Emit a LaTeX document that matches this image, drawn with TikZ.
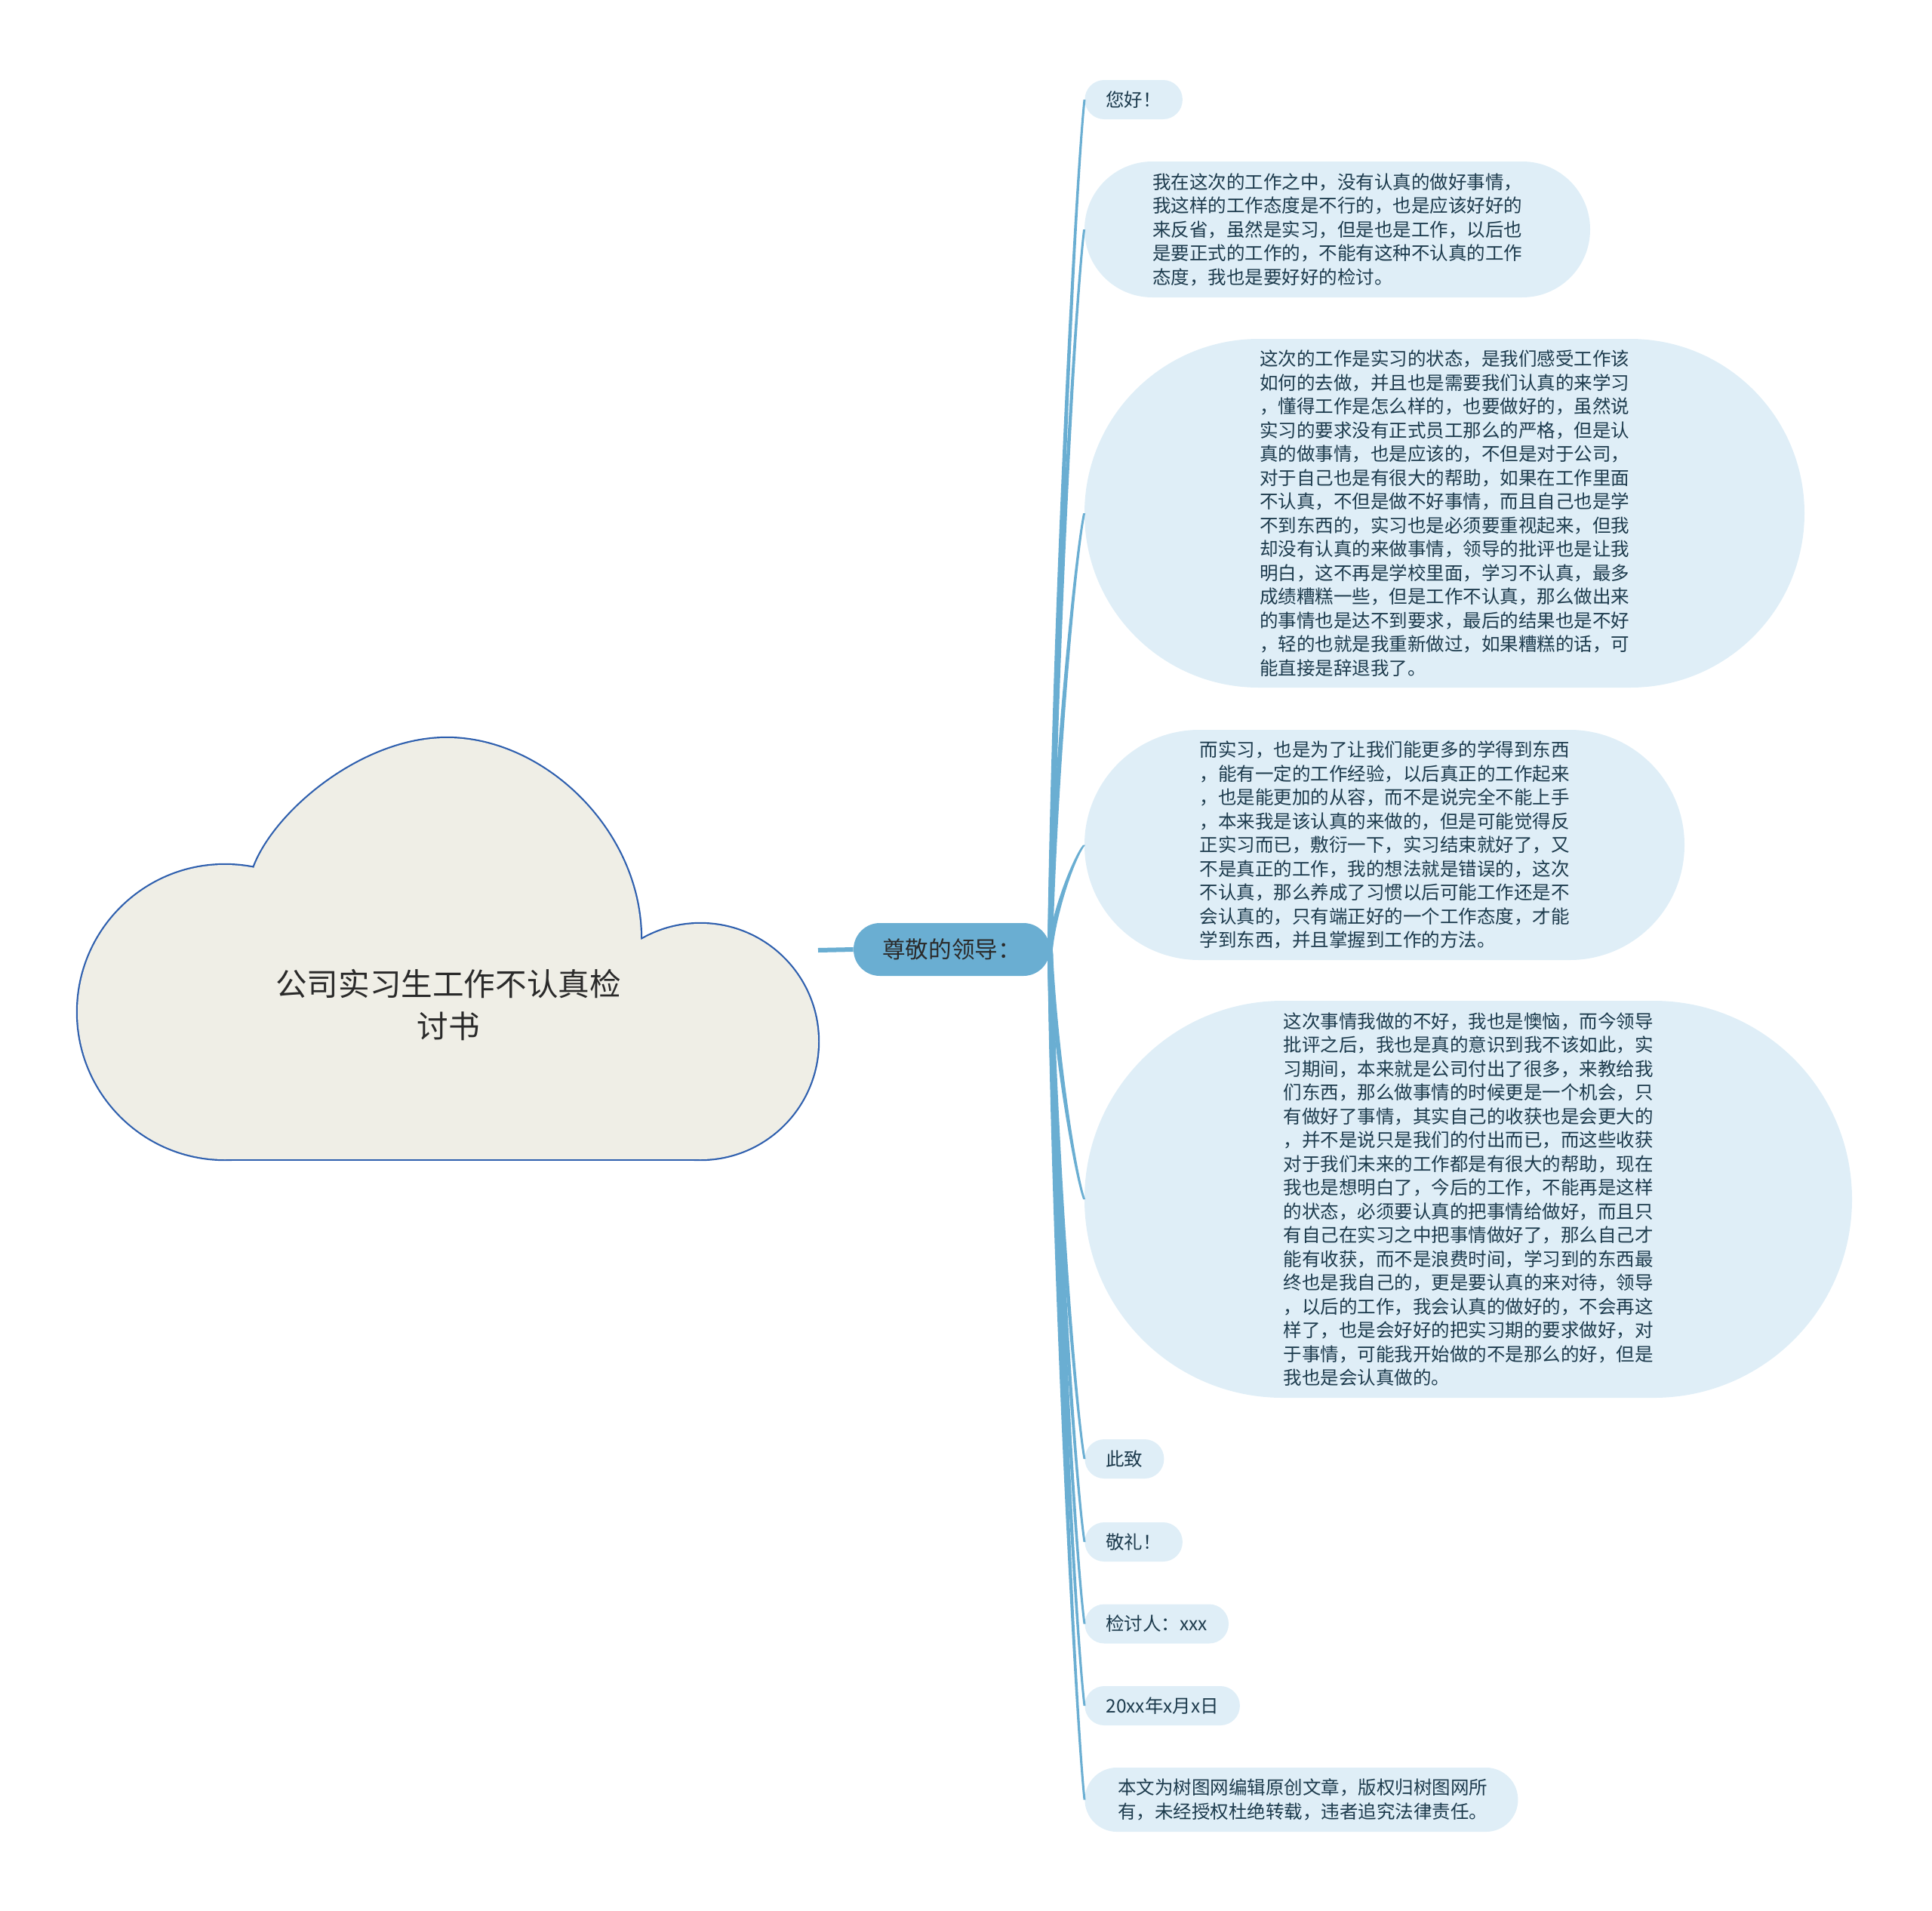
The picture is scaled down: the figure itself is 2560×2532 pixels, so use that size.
\documentclass[tikz,border=0pt]{standalone}
\usepackage{fontspec}
\setmainfont{Noto Sans CJK SC}
\usetikzlibrary{calc}
\definecolor{linec}{HTML}{6AAED2}
\definecolor{boxc}{HTML}{DFEEF7}
\definecolor{txtc}{HTML}{1D3B4D}
\definecolor{cloudf}{HTML}{EFEEE6}
\definecolor{cloudl}{HTML}{2E5FAE}
\definecolor{titlec}{HTML}{2A2A2A}
\newcommand\taperconn[3]{%
  \fill[linec] ($(root.east)+(-3.5,0)$) .. controls ($(root.east)+(2.5,#2)$) and ($(#1.west)+(-13.5,#3)$) .. ($(#1.west)+(-1.5,0)$)
    -- ($(#1.west)+(1.5,0)$) .. controls ($(#1.west)+(-10.5,#3)$) and ($(root.east)+(9.5,#2)$) .. ($(root.east)+(3.5,0)$) -- cycle;}
\begin{document}
\begin{tikzpicture}[x=0.5pt,y=-0.5pt,
  leaf/.style={fill=boxc, text=txtc, font=\fontsize{12.25}{15.75}\selectfont, inner sep=0pt, align=left},
  smallbox/.style={leaf, anchor=west, minimum height=26pt, rounded corners=12.9pt, inner xsep=14pt},
  bigbox/.style={leaf},
  cloudout/.style={draw=cloudl, line width=2.2pt, line join=round}]
\useasboundingbox (0,0) rectangle (2560,2532);

% cloud: outlines first, then fills cover the inner parts
\def\lobeL{(298,1341) circle[radius=97.5pt]}
\def\lobeR{(928,1380) circle[radius=78pt]}
\def\lobeB{(298,1300) rectangle (928,1536)}
\def\lobeT{(330,1170) -- (337,1148) .. controls (365,1075) and (480,978) .. (592,978) .. controls (720,978) and (849,1100) .. (849,1244) -- (860,1262) -- (860,1450) -- (330,1450) -- cycle}
\path[cloudout] \lobeL;
\path[cloudout] \lobeR;
\path[cloudout] \lobeB;
\path[cloudout] \lobeT;
\fill[cloudf] \lobeL;
\fill[cloudf] \lobeR;
\fill[cloudf] \lobeB;
\fill[cloudf] \lobeT;

\node[text=titlec, font=\fontsize{20.8}{28}\selectfont, align=center] (title) at (594,1332)
  {公司实习生工作不认真检\\讨书};
\coordinate (cloudR) at (1084,1259);

% root
\node[fill=linec, text=titlec, font=\fontsize{15.3}{18}\selectfont, minimum width=130pt, minimum height=35pt,
  rounded corners=17.4pt, inner sep=0pt] (root) at (1261,1258) {尊敬的领导：};
\draw[draw=linec, line width=3pt] (cloudR) -- (root.west);

% children
\node[smallbox] (n1) at (1437,132) {您好！};
\node[bigbox, minimum width=335pt, minimum height=90pt, rounded corners=44.9pt] (n2) at (1772,304)
 {我在这次的工作之中，没有认真的做好事情，\\
  我这样的工作态度是不行的，也是应该好好的\\
  来反省，虽然是实习，但是也是工作，以后也\\
  是要正式的工作的，不能有这种不认真的工作\\
  态度，我也是要好好的检讨。};
\node[bigbox, minimum width=477pt, minimum height=231pt, rounded corners=115.4pt] (n3) at (1914,680)
 {这次的工作是实习的状态，是我们感受工作该\\
  如何的去做，并且也是需要我们认真的来学习\\
  ，懂得工作是怎么样的，也要做好的，虽然说\\
  实习的要求没有正式员工那么的严格，但是认\\
  真的做事情，也是应该的，不但是对于公司，\\
  对于自己也是有很大的帮助，如果在工作里面\\
  不认真，不但是做不好事情，而且自己也是学\\
  不到东西的，实习也是必须要重视起来，但我\\
  却没有认真的来做事情，领导的批评也是让我\\
  明白，这不再是学校里面，学习不认真，最多\\
  成绩糟糕一些，但是工作不认真，那么做出来\\
  的事情也是达不到要求，最后的结果也是不好\\
  ，轻的也就是我重新做过，如果糟糕的话，可\\
  能直接是辞退我了。};
\node[bigbox, minimum width=397.5pt, minimum height=152.5pt, rounded corners=76.1pt] (n4) at (1834.5,1119.5)
 {而实习，也是为了让我们能更多的学得到东西\\
  ，能有一定的工作经验，以后真正的工作起来\\
  ，也是能更加的从容，而不是说完全不能上手\\
  ，本来我是该认真的来做的，但是可能觉得反\\
  正实习而已，敷衍一下，实习结束就好了，又\\
  不是真正的工作，我的想法就是错误的，这次\\
  不认真，那么养成了习惯以后可能工作还是不\\
  会认真的，只有端正好的一个工作态度，才能\\
  学到东西，并且掌握到工作的方法。};
\node[bigbox, minimum width=508.5pt, minimum height=263pt, rounded corners=131.4pt] (n5) at (1945.5,1589)
 {这次事情我做的不好，我也是懊恼，而今领导\\
  批评之后，我也是真的意识到我不该如此，实\\
  习期间，本来就是公司付出了很多，来教给我\\
  们东西，那么做事情的时候更是一个机会，只\\
  有做好了事情，其实自己的收获也是会更大的\\
  ，并不是说只是我们的付出而已，而这些收获\\
  对于我们未来的工作都是有很大的帮助，现在\\
  我也是想明白了，今后的工作，不能再是这样\\
  的状态，必须要认真的把事情给做好，而且只\\
  有自己在实习之中把事情做好了，那么自己才\\
  能有收获，而不是浪费时间，学习到的东西最\\
  终也是我自己的，更是要认真的来对待，领导\\
  ，以后的工作，我会认真的做好的，不会再这\\
  样了，也是会好好的把实习期的要求做好，对\\
  于事情，可能我开始做的不是那么的好，但是\\
  我也是会认真做的。};
\node[smallbox] (n6) at (1437,1933) {此致};
\node[smallbox] (n7) at (1437,2043) {敬礼！};
\node[smallbox] (n8) at (1437,2151.5) {检讨人：xxx};
\node[smallbox] (n9) at (1437,2260) {20xx年x月x日};
\node[leaf, anchor=west, minimum height=42.5pt, rounded corners=21.2pt, inner xsep=22pt, text width=243pt] (n10) at (1437,2384.5)
 {本文为树图网编辑原创文章，版权归树图网所\\有，未经授权杜绝转载，违者追究法律责任。};

% connectors (tapered, from root to each child)
\taperconn{n1}{-450}{113}
\taperconn{n2}{-382}{95}
\taperconn{n3}{-231}{58}
\taperconn{n4}{-55}{14}
\taperconn{n5}{132}{-33}
\taperconn{n6}{270}{-68}
\taperconn{n7}{314}{-79}
\taperconn{n8}{357}{-89}
\taperconn{n9}{401}{-100}
\taperconn{n10}{450}{-113}
\end{tikzpicture}
\end{document}
